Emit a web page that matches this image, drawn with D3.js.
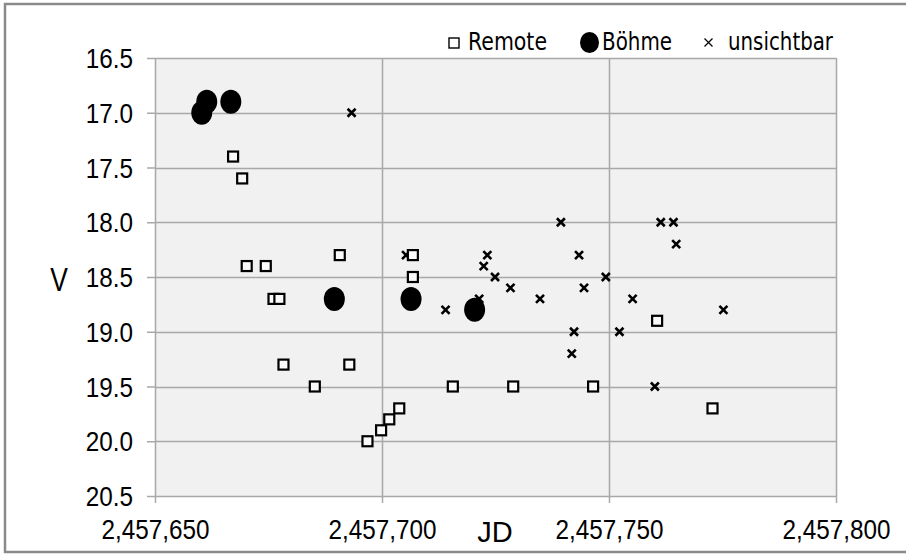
<!DOCTYPE html>
<html>
<head>
<meta charset="utf-8">
<script src="https://cdn.jsdelivr.net/npm/d3@7"></script>
<style>
  html, body { margin: 0; padding: 0; background: #fff; }
  svg { display: block; }
</style>
</head>
<body>
<svg id="chart" width="907" height="554"></svg>
<script>
// Julian dates and V magnitudes per observing group
const remoteJD = [2457667.2, 2457669.2, 2457670.2, 2457674.4, 2457676.1, 2457677.4, 2457678.3,
  2457685.2, 2457690.7, 2457692.8, 2457696.8, 2457699.8, 2457701.6, 2457703.8, 2457706.8,
  2457706.8, 2457715.6, 2457728.9, 2457746.5, 2457760.6, 2457772.8];
const remoteV = [17.4, 17.6, 18.4, 18.4, 18.7, 18.7, 19.3,
  19.5, 18.3, 19.3, 20.0, 19.9, 19.8, 19.7, 18.3,
  18.5, 19.5, 19.5, 19.5, 18.9, 19.7];

const boehmeJD = [2457660.3, 2457661.4, 2457666.7, 2457689.5, 2457706.4, 2457720.4];
const boehmeV = [17.0, 16.9, 16.9, 18.7, 18.7, 18.8];

const unsichtbarJD = [2457693.3, 2457705.3, 2457714.0, 2457721.4, 2457723.2, 2457722.4,
  2457724.9, 2457728.3, 2457734.8, 2457739.4, 2457743.4, 2457744.5, 2457742.3, 2457741.8,
  2457749.3, 2457755.2, 2457752.3, 2457761.4, 2457764.2, 2457764.8, 2457760.1, 2457775.2];
const unsichtbarV = [17.0, 18.3, 18.8, 18.7, 18.3, 18.4,
  18.5, 18.6, 18.7, 18.0, 18.3, 18.6, 19.0, 19.2,
  18.5, 18.7, 19.0, 18.0, 18.0, 18.2, 19.5, 18.8];

const xTicks = [2457650, 2457700, 2457750, 2457800];
const yTicks = [16.5, 17.0, 17.5, 18.0, 18.5, 19.0, 19.5, 20.0, 20.5];
const seriesNames = ["Remote", "Böhme", "unsichtbar"];

const svg = d3.select("#chart");
const plot = { left: 155, right: 836, top: 58, bottom: 496 };

const x = d3.scaleLinear().domain([2457650, 2457800]).range([plot.left, plot.right]);
const y = d3.scaleLinear().domain([16.5, 20.5]).range([plot.top, plot.bottom]);

const labelFont = "'Liberation Sans', Arial, sans-serif";
const squeeze = 0.9;   // horizontal compression of axis labels

// outer frame (left, top, bottom edges)
svg.append("path")
  .attr("d", "M906,4 H5 V552 H906")
  .attr("fill", "none").attr("stroke", "#8a8a8a").attr("stroke-width", 2.5);

// plot background
svg.append("rect")
  .attr("x", plot.left).attr("y", plot.top)
  .attr("width", plot.right - plot.left).attr("height", plot.bottom - plot.top)
  .attr("fill", "#f1f1f1");

const gridColor = "#a8a8a8";

// horizontal grid lines
svg.append("g").selectAll("line").data(yTicks).join("line")
  .attr("x1", plot.left).attr("x2", plot.right)
  .attr("y1", d => Math.round(y(d)) + 0.5).attr("y2", d => Math.round(y(d)) + 0.5)
  .attr("stroke", gridColor).attr("stroke-width", 1.5);

// vertical grid lines
svg.append("g").selectAll("line").data(xTicks).join("line")
  .attr("x1", d => Math.round(x(d)) + 0.5).attr("x2", d => Math.round(x(d)) + 0.5)
  .attr("y1", plot.top).attr("y2", plot.bottom)
  .attr("stroke", gridColor).attr("stroke-width", 1.5);

// y axis
const yAxis = svg.append("g")
  .attr("transform", `translate(${plot.left},0)`)
  .call(d3.axisLeft(y).tickValues(yTicks).tickFormat(d3.format(".1f")).tickSize(8).tickPadding(14));
yAxis.select(".domain").remove();
yAxis.selectAll(".tick line").attr("stroke", gridColor).attr("stroke-width", 1.5);
yAxis.selectAll(".tick text")
  .attr("font-family", labelFont)
  .attr("font-size", 27).attr("fill", "#000")
  .attr("x", -22 / squeeze)
  .attr("transform", `scale(${squeeze},1)`)
  .attr("dy", "0.36em");

// x axis
const xAxis = svg.append("g")
  .attr("transform", `translate(0,${plot.bottom})`)
  .call(d3.axisBottom(x).tickValues(xTicks).tickFormat(d3.format(",")).tickSize(7).tickPadding(17));
xAxis.select(".domain").remove();
xAxis.selectAll(".tick line").attr("stroke", gridColor).attr("stroke-width", 1.5);
xAxis.selectAll(".tick text")
  .attr("font-family", labelFont)
  .attr("font-size", 27).attr("fill", "#000")
  .attr("transform", `scale(${squeeze},1)`);

// axis titles
svg.append("text")
  .attr("x", 59).attr("y", 291)
  .attr("text-anchor", "middle")
  .attr("font-family", labelFont)
  .attr("font-size", 33)
  .attr("transform", "translate(59,0) scale(0.8,1) translate(-59,0)")
  .text("V");
svg.append("text")
  .attr("x", 495).attr("y", 542)
  .attr("text-anchor", "middle")
  .attr("font-family", labelFont)
  .attr("font-size", 29)
  .text("JD");

// marker shapes
const crossPath = s => `M${-s},${-s}L${s},${s}M${-s},${s}L${s},${-s}`;

// unsichtbar: crosses
const unsichtbar = unsichtbarJD.map((d, i) => ({ jd: d, v: unsichtbarV[i] }));
svg.append("g").selectAll("path").data(unsichtbar).join("path")
  .attr("transform", d => `translate(${x(d.jd)},${y(d.v)})`)
  .attr("d", crossPath(4))
  .attr("fill", "none").attr("stroke", "#000").attr("stroke-width", 2.6);

// Remote: open squares
const remote = remoteJD.map((d, i) => ({ jd: d, v: remoteV[i] }));
svg.append("g").selectAll("rect").data(remote).join("rect")
  .attr("x", d => x(d.jd) - 5).attr("y", d => y(d.v) - 5)
  .attr("width", 10).attr("height", 10)
  .attr("fill", "#fafafa").attr("stroke", "#000").attr("stroke-width", 2.2);

// Böhme: filled ellipses
const boehme = boehmeJD.map((d, i) => ({ jd: d, v: boehmeV[i] }));
svg.append("g").selectAll("ellipse").data(boehme).join("ellipse")
  .attr("cx", d => x(d.jd)).attr("cy", d => y(d.v))
  .attr("rx", 10.5).attr("ry", 12)
  .attr("fill", "#000");

// legend
const legend = svg.append("g")
  .attr("font-family", "'DejaVu Sans', 'Noto Sans', sans-serif")
  .attr("font-size", 24).attr("fill", "#000");
const legendItems = [
  { name: seriesNames[0], mx: 454, tx: 468, w: 79 },
  { name: seriesNames[1], mx: 589.5, tx: 602, w: 70 },
  { name: seriesNames[2], mx: 708.5, tx: 728, w: 105 }
];
legend.append("rect").attr("x", legendItems[0].mx - 5).attr("y", 38)
  .attr("width", 10).attr("height", 10)
  .attr("fill", "#fff").attr("stroke", "#000").attr("stroke-width", 1.4);
legend.append("ellipse").attr("cx", legendItems[1].mx).attr("cy", 42.5)
  .attr("rx", 9.5).attr("ry", 10.5).attr("fill", "#000");
legend.append("path").attr("transform", `translate(${legendItems[2].mx},42.5)`)
  .attr("d", crossPath(4)).attr("stroke", "#000").attr("stroke-width", 1.2);
legend.selectAll("text").data(legendItems).join("text")
  .attr("x", d => d.tx).attr("y", 50)
  .attr("textLength", d => d.w).attr("lengthAdjust", "spacingAndGlyphs")
  .text(d => d.name);
</script>
</body>
</html>
